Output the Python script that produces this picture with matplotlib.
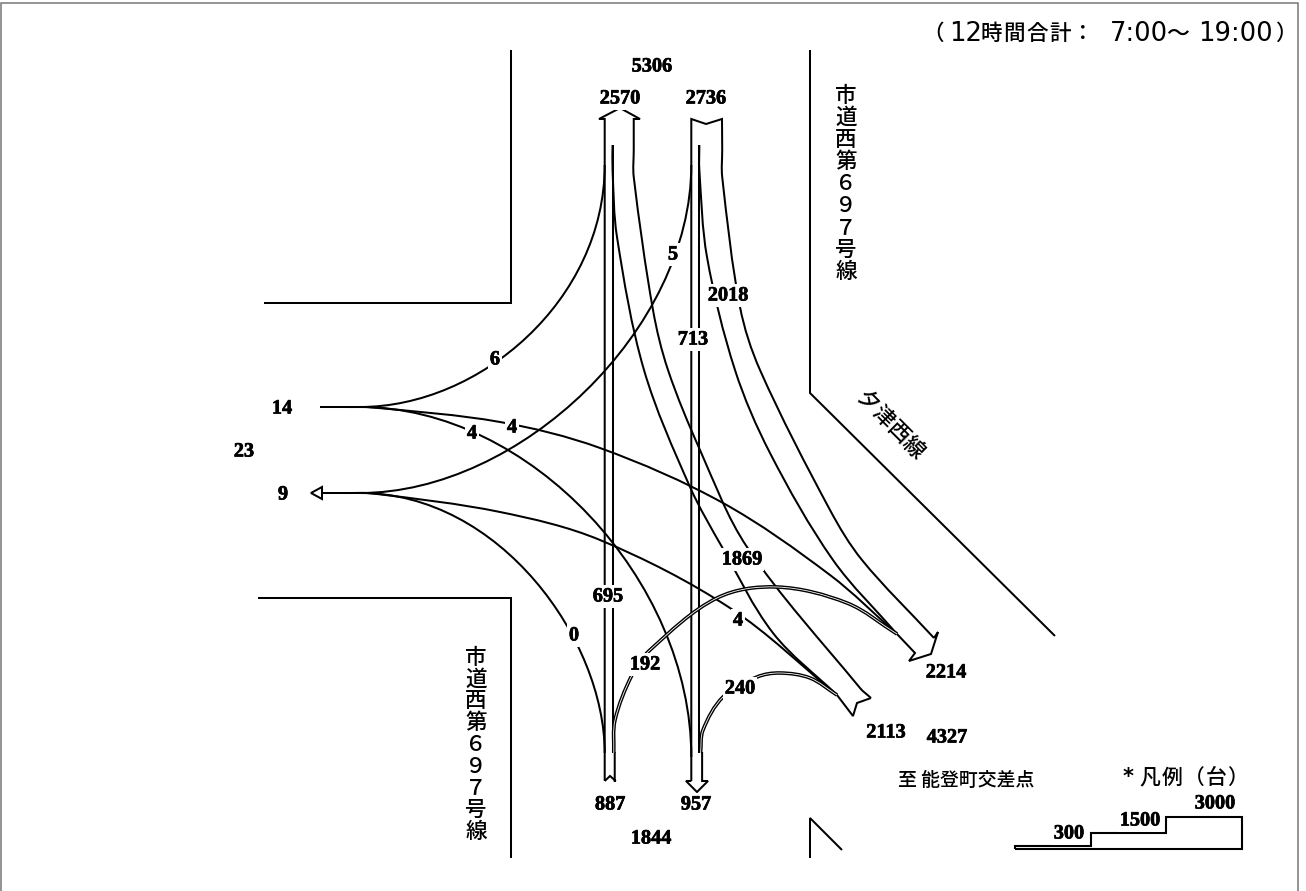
# plot.py
# Diagram ruchu na skrzyzowaniu (12h) - odtworzenie w matplotlib

import math

import matplotlib
matplotlib.use("Agg")
import matplotlib.pyplot as plt
import matplotlib.patheffects as pe
from matplotlib.path import Path
from matplotlib.patches import PathPatch, Polygon

plt.rcParams['font.family'] = ['Noto Sans CJK JP', 'DejaVu Sans']

# natezenia (pojazdy / 12 h)
north_in = 2736
north_out = 2570
north_total = 5306
south_in = 887
south_out = 957
south_total = 1844
west_in = 14
west_out = 9
west_total = 23
east_in = 2113
east_out = 2214
east_total = 4327

n_to_w = 5
n_to_s = 713
n_to_e = 2018
s_to_w = 0
s_to_n = 695
s_to_e = 192
w_to_n = 6
w_to_s = 4
w_to_e = 4
e_to_n = 1869
e_to_s = 240
e_to_w = 4

legend_values = [300, 1500, 3000]

road_north = "市道西第６９７号線"
road_south = "市道西第６９７号線"
road_east = "夕津西線"
dest_text = "至 能登町交差点"

# skala szerokosci pasm: px na pojazd
SCALE = 0.0113
LEGEND_SCALE = 0.0107
LW = 1.45
NUM_FONT = dict(family="Liberation Serif", fontweight="bold", fontsize=14.6)
JP_WEIGHT = "medium"

# kolumny pionowe
XA = 604.7
XB = 691.3
xa_in = XA + s_to_n * SCALE
xa_out = XA + north_out * SCALE
xa_s = XA + south_in * SCALE
xb_in = XB + n_to_s * SCALE
xb_out = XB + north_in * SCALE
xb_s = XB + south_out * SCALE

fig = plt.figure(figsize=(13.06, 8.91), dpi=100)
ax = fig.add_axes([0, 0, 1, 1])
ax.set_xlim(0, 1306)
ax.set_ylim(891, 0)
ax.axis("off")


def polyline(pts, color="black", lw=LW):
    xs = [p[0] for p in pts]
    ys = [p[1] for p in pts]
    ax.plot(xs, ys, color=color, lw=lw, solid_joinstyle="miter", solid_capstyle="butt", zorder=2)


def bezier(p0, c1, c2, p3):
    """Pojedyncza krzywa Beziera - dla lukow z/do zachodu."""
    path = Path([p0, c1, c2, p3], [Path.MOVETO, Path.CURVE4, Path.CURVE4, Path.CURVE4])
    ax.add_patch(PathPatch(path, fill=False, edgecolor="black", lw=LW, capstyle="butt", zorder=2))


def smooth(pts, lw=LW, color="black", z=2):
    """Gladka krzywa przez punkty, styczne liczone z dlugosci cieciw."""
    n = len(pts)
    dist = [math.dist(pts[i], pts[i + 1]) for i in range(n - 1)]
    tang = []
    for i in range(n):
        a = pts[max(i - 1, 0)]
        b = pts[min(i + 1, n - 1)]
        d = math.dist(a, b)
        tang.append(((b[0] - a[0]) / d, (b[1] - a[1]) / d))
    verts = [pts[0]]
    codes = [Path.MOVETO]
    for i in range(n - 1):
        h = dist[i] / 3
        c1 = (pts[i][0] + tang[i][0] * h, pts[i][1] + tang[i][1] * h)
        c2 = (pts[i + 1][0] - tang[i + 1][0] * h, pts[i + 1][1] - tang[i + 1][1] * h)
        verts += [c1, c2, pts[i + 1]]
        codes += [Path.CURVE4, Path.CURVE4, Path.CURVE4]
    ax.add_patch(PathPatch(Path(verts, codes), fill=False, edgecolor=color, lw=lw,
                           capstyle="butt", zorder=z))


def double_curve(pts):
    smooth(pts, lw=2.6, z=2)
    smooth(pts, lw=0.6, color="white", z=2.1)


def num(x, y, value):
    ax.text(x, y + 1.5, str(value), ha="center", va="center", zorder=5,
            bbox=dict(facecolor="white", edgecolor="none", pad=1.2),
            path_effects=[pe.withStroke(linewidth=0.5, foreground="black")], **NUM_FONT)


def char_line(text, x, y, dx, dy, size, rotation=0):
    for i, ch in enumerate(text):
        ax.text(x + i * dx, y + i * dy, ch, ha="center", va="center", fontsize=size,
                fontweight=JP_WEIGHT, rotation=rotation, rotation_mode="anchor",
                color="black", zorder=5)


def latin(x, y, text):
    ax.text(x, y, text, ha="center", va="center", fontsize=18.6, family="DejaVu Sans", zorder=5)


# ramka
polyline([(1, 891), (1, 2.5), (1298, 2.5), (1298, 891)], color="#777777", lw=1.1)

# drogi
polyline([(511, 50), (511, 303), (264, 303)])
polyline([(810, 50), (810, 393), (1055, 636)])
polyline([(258, 598), (511, 598), (511, 858)])
polyline([(810, 858), (810, 818), (842, 850)])

# kolumna A: wylot na polnoc / wlot z poludnia
polyline([(XA, 781), (XA, 119), (599, 119), (620, 108), (640, 119), (xa_out, 119), (xa_out, 150)])
polyline([(xa_in, 145), (xa_in, 753)])
polyline([(XA, 781), (610, 776), (xa_s + 1, 781), (xa_s, 781), (xa_s, 752)])

# kolumna B: wlot z polnocy / wylot na poludnie
polyline([(XB, 781), (XB, 119), (706, 124), (722, 119), (xb_out, 150)])
polyline([(xb_in, 145), (xb_in, 753)])
polyline([(XB, 781), (686, 781), (697, 792), (708, 781), (xb_s, 781), (xb_s, 752)])

# pasmo polnoc -> wschod (2018)
smooth([(xb_in, 145), (xb_in, 170), (707, 257), (735, 370), (770, 453), (833, 560), (897, 634)])
smooth([(xb_out, 150), (xb_out, 177), (740, 307), (760, 370), (830, 510), (862, 560), (934, 638)])

# pasmo wschod -> polnoc (1869)
smooth([(xa_in, 145), (xa_in, 170), (617, 237), (644, 370), (690, 487), (722, 547), (773, 633), (837, 695)])
smooth([(xa_out, 150), (xa_out, 177), (653, 310), (668, 370), (700, 450), (747, 547), (860, 688), (871, 698)])

# glowica 2214
polyline([(934, 638), (938, 632), (931, 654), (909, 661), (915, 653), (897, 634)])
# ogon 2113
polyline([(871, 698), (857, 703), (853, 716), (837, 695)])

# relacje z/do zachodu
bezier((XA, 165), (XA, 300), (480, 407), (360, 407))
bezier((XB, 165), (XB, 330), (520, 493), (360, 493))
bezier((360, 407), (530, 407), (XB, 580), (XB, 757))
bezier((360, 493), (500, 493), (XA, 640), (XA, 753))
smooth([(345, 407), (373, 407.5), (500, 422), (600, 448), (723, 503), (830, 575), (897, 634)])
smooth([(345, 493), (373, 493.5), (500, 512), (600, 540), (730, 608), (837, 695)])
polyline([(320, 407), (361, 407)])
polyline([(322, 493), (361, 493)])
ax.add_patch(Polygon([(322, 487), (311, 493), (322, 499)], closed=True, fill=False,
                     edgecolor="black", lw=LW, zorder=2))

# pasma podwojne 192 i 240
double_curve([(xa_in + 1.2, 753), (615, 720), (632, 675), (650, 650), (717, 598), (777, 587),
              (847, 603), (897, 634)])
double_curve([(xb_in + 1.2, 753), (703, 730), (723, 697), (757, 677), (780, 673), (810, 678), (837, 695)])

# etykiety natezen
num(652, 65, north_total)
num(620, 97, north_out)
num(706, 97, north_in)
num(495, 358, w_to_n)
num(673, 253, n_to_w)
num(728, 294, n_to_e)
num(693, 338, n_to_s)
num(282, 407, west_in)
num(244, 450, west_total)
num(283, 493, west_out)
num(472, 432, w_to_s)
num(512, 426, w_to_e)
num(742, 558, e_to_n)
num(608, 595, s_to_n)
num(574, 634, s_to_w)
num(645, 663, s_to_e)
num(738, 619, e_to_w)
num(740, 687, e_to_s)
num(946, 671, east_out)
num(886, 731, east_in)
num(947, 736, east_total)
num(610, 803, south_in)
num(696, 803, south_out)
num(651, 837, south_total)

# naglowek skladany z kawalkow (szerokie cyfry jak w oryginale)
char_line("（", 933, 34, 0, 0, 15.5)
latin(966, 34, "12")
char_line("時間合計：", 991, 34, 23, 0, 15.5)
latin(1139, 34, "7:00")
char_line("～", 1178, 34, 0, 0, 16.5)
latin(1235, 34, "19:00")
char_line("）", 1286, 34, 0, 0, 15.5)

# nazwy drog
char_line(road_north, 846, 96, 0, 22.0, 15.5)
char_line(road_south, 476, 658, 0, 21.7, 15.5)
char_line(road_east, 867, 402, 15.4, 15.4, 15.5, rotation=-45)
ax.text(966, 780, dest_text, ha="center", va="center", fontsize=13.6, fontweight=JP_WEIGHT, zorder=5)

# tytul legendy
ax.text(1128, 777, "*", ha="center", va="center", fontsize=15, fontweight="bold",
        family="DejaVu Sans", zorder=5)
char_line("凡例（台）", 1150, 778, 22, 0, 15)

# legenda - schodki z wartosci
LEG_LEFT = 1015
LEG_RIGHT = 1242
LEG_BASE = 849
STEP = 75.5
leg_pts = [(LEG_LEFT, LEG_BASE), (LEG_LEFT, LEG_BASE - legend_values[0] * LEGEND_SCALE)]
for i, v in enumerate(legend_values):
    y = LEG_BASE - v * LEGEND_SCALE
    x_next = LEG_LEFT + (i + 1) * STEP
    if i > 0:
        leg_pts.append((LEG_LEFT + i * STEP, y))
    leg_pts.append((x_next if i < 2 else LEG_RIGHT, y))
leg_pts += [(LEG_RIGHT, LEG_BASE), (LEG_LEFT, LEG_BASE)]
polyline(leg_pts, lw=1.5)
for x, y, v in zip([1069, 1140, 1215], [832, 819, 802], legend_values):
    num(x, y, v)

fig.savefig("out.png", dpi=100)
